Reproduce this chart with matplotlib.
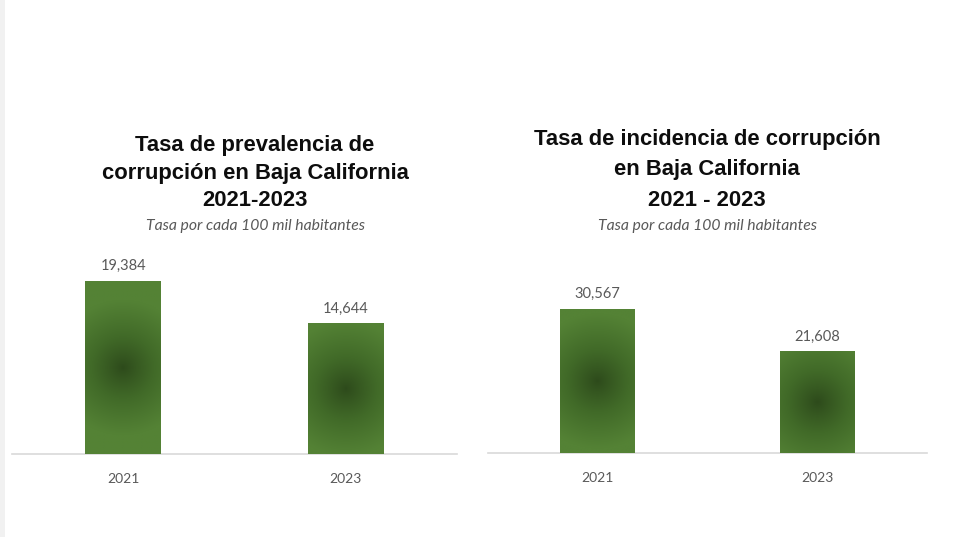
import numpy as np
import matplotlib
matplotlib.use("Agg")
import matplotlib.pyplot as plt
from matplotlib.colors import LinearSegmentedColormap
from matplotlib.patches import Rectangle

# ---- data ----
years = ["2021", "2023"]
prevalencia = [19384, 14644]
incidencia = [30567, 21608]
title_left = ["Tasa de prevalencia de", "corrupción en Baja California", "2021-2023"]
title_right = ["Tasa de incidencia de corrupción", "en Baja California", "2021 - 2023"]
subtitle = "Tasa por cada 100 mil habitantes"

W, H = 956, 537
fig = plt.figure(figsize=(W / 100, H / 100), dpi=100)
fig.patch.set_facecolor("white")
fig.patches.append(Rectangle((0, 0), 5 / W, 1, transform=fig.transFigure,
                             facecolor="#f1f1f1", edgecolor="none", zorder=0))

edge_col = "#548235"
center_col = "#2d4a1b"
cmap = LinearSegmentedColormap.from_list("g", [center_col, "#416a28", edge_col])

GRAY = "#595959"


def px(x, y):
    return x / W, 1 - y / H


def make_panel(rect, values, ymax):
    ax = fig.add_axes(rect)
    x = np.arange(len(values))
    bars = ax.bar(x, values, width=0.34, color=edge_col, zorder=2)
    ax.set_xlim(-0.5, len(values) - 0.5)
    ax.set_ylim(0, ymax)
    for s in ["top", "right", "left"]:
        ax.spines[s].set_visible(False)
    ax.spines["bottom"].set_color("#d9d9d9")
    ax.spines["bottom"].set_linewidth(1.2)
    ax.set_yticks([])
    ax.set_xticks(x)
    ax.set_xticklabels(years, fontsize=10, color=GRAY, family="Lato")
    ax.tick_params(axis="x", length=0, pad=14)
    ax.set_facecolor("none")
    # radial gradient fill clipped to each bar
    for b in bars:
        x0, y0, w, h = b.get_x(), b.get_y(), b.get_width(), b.get_height()
        p0 = ax.transData.transform((x0, y0))
        p1 = ax.transData.transform((x0 + w, y0 + h))
        wpx, hpx = abs(p1[0] - p0[0]), abs(p1[1] - p0[1])
        nx, ny = 80, 160
        gx = (np.linspace(0, 1, nx) - 0.5) * wpx
        gy = (np.linspace(0, 1, ny) - 0.5) * hpx
        XX, YY = np.meshgrid(gx, gy)
        r = np.sqrt(XX ** 2 + YY ** 2) / 68.0
        r = np.clip(r, 0, 1) ** 0.9
        im = ax.imshow(r, extent=(x0, x0 + w, y0, y0 + h), origin="lower",
                       cmap=cmap, vmin=0, vmax=1, aspect="auto",
                       interpolation="bilinear", zorder=3)
        im.set_clip_path(b)
        ax.annotate(f"{b.get_height():,.0f}", (x0 + w / 2, y0 + h),
                    xytext=(0, 5.5), textcoords="offset points",
                    ha="center", va="bottom", fontsize=10.5, color=GRAY,
                    family="Lato", zorder=4)
    ax.set_aspect("auto")
    return ax


# left panel: baseline y=454 px, axis x 12..457
hl = 23000 * 173 / 19384
make_panel([12 / W, (H - 454) / H, 445 / W, hl / H], prevalencia, 23000)
# right panel: baseline y=453 px, axis x 488..927
hr = 35000 * 144 / 30567
make_panel([488 / W, (H - 453) / H, 439 / W, hr / H], incidencia, 35000)

title_kw = dict(ha="center", va="center", fontsize=15.8, fontweight="bold",
                family="Liberation Sans", color="#0d0d0d")
for line, yy in zip(title_left, [146, 173, 200]):
    fig.text(*px(255, yy), line, **title_kw)
for line, yy in zip(title_right, [140, 170, 200]):
    fig.text(*px(707, yy), line, **title_kw)

sub_kw = dict(ha="center", va="center", fontsize=11.3, style="italic",
              family="Lato", color=GRAY)
fig.text(*px(255, 226), subtitle, **sub_kw)
fig.text(*px(707, 226), subtitle, **sub_kw)

fig.savefig("out.png", dpi=100, facecolor=fig.get_facecolor())
